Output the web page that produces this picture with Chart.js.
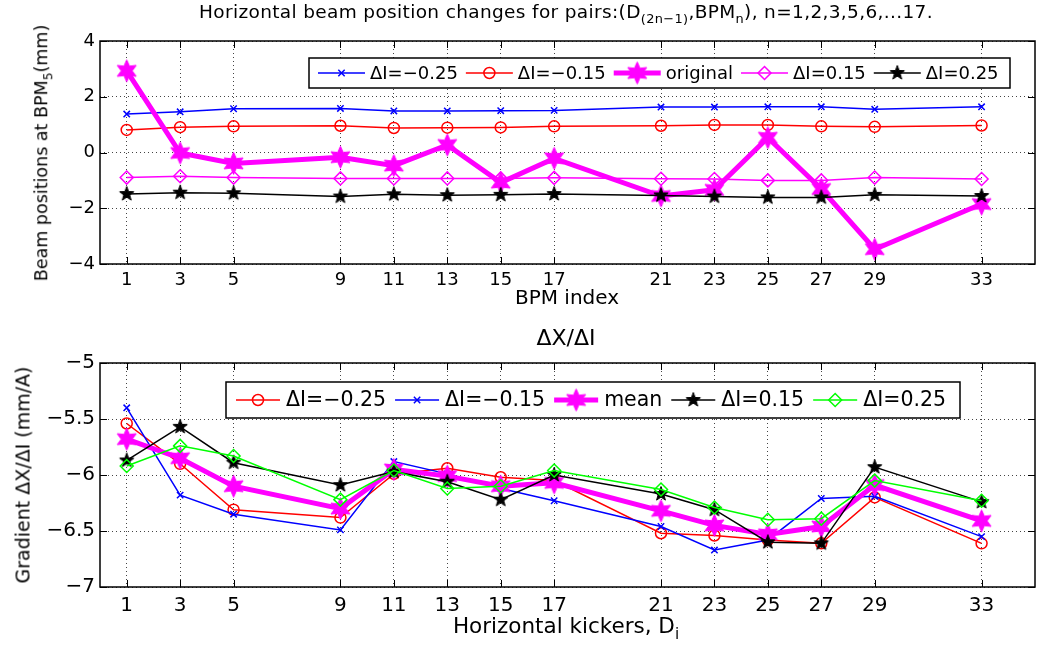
<!DOCTYPE html>
<html>
<head>
<meta charset="utf-8">
<script src="https://cdn.jsdelivr.net/npm/chart.js@4.4.0/dist/chart.umd.min.js"></script>
<style>
body { margin: 0; background: #fff; }
#wrap { position: relative; width: 1037px; height: 646px; overflow: hidden; font-family: 'DejaVu Sans', sans-serif; color: #000; }
canvas { position: absolute; left: 0; }
.lbl { position: absolute; white-space: nowrap; transform: translate(-50%, -50%); line-height: 1; }
.rot { transform: translate(-50%, -50%) rotate(-90deg); }
sub { font-size: 70%; vertical-align: -0.4em; line-height: 0; }
</style>
</head>
<body>
<div id="wrap">
  <canvas id="topChart" width="1037" height="300" style="top:0"></canvas>
  <canvas id="botChart" width="1037" height="336" style="top:310px"></canvas>

  <div class="lbl" style="left:566px;top:12px;font-size:18.5px;letter-spacing:0.35px">Horizontal beam position changes for pairs:(D<sub>(2n−1)</sub>,BPM<sub>n</sub>), n=1,2,3,5,6,...17.</div>
  <div class="lbl rot" style="left:42px;top:153px;font-size:17.5px">Beam positions at BPM<sub>5</sub>(mm)</div>
  <div class="lbl" style="left:567px;top:297px;font-size:20px">BPM index</div>

  <div class="lbl" style="left:566px;top:338px;font-size:22px">ΔX/ΔI</div>
  <div class="lbl rot" style="left:23px;top:475px;font-size:19px">Gradient ΔX/ΔI (mm/A)</div>
  <div class="lbl" style="left:566px;top:626px;font-size:21.5px">Horizontal kickers, D<sub>i</sub></div>
</div>

<script>
// x 位置 (BPM / kicker 编号)
const bpmIndex = [1, 3, 5, 9, 11, 13, 15, 17, 21, 23, 25, 27, 29, 33];

// 上图: BPM5 处的束流位置 (mm)
const topLabels = ['ΔI=−0.25', 'ΔI=−0.15', 'original', 'ΔI=0.15', 'ΔI=0.25'];
const posM025 = [1.38, 1.46, 1.57, 1.58, 1.49, 1.49, 1.50, 1.51, 1.63, 1.63, 1.64, 1.64, 1.55, 1.64];
const posM015 = [0.81, 0.91, 0.94, 0.96, 0.88, 0.89, 0.90, 0.94, 0.96, 0.99, 0.99, 0.94, 0.92, 0.97];
const posOrig = [2.93, -0.02, -0.39, -0.17, -0.47, 0.27, -1.08, -0.21, -1.56, -1.34, 0.53, -1.31, -3.47, -1.85];
const posP015 = [-0.90, -0.85, -0.90, -0.93, -0.93, -0.93, -0.93, -0.91, -0.94, -0.95, -1.00, -1.00, -0.90, -0.95];
const posP025 = [-1.49, -1.44, -1.46, -1.58, -1.50, -1.53, -1.52, -1.49, -1.54, -1.58, -1.61, -1.61, -1.52, -1.56];

// 下图: 梯度 ΔX/ΔI (mm/A)
const botLabels = ['ΔI=−0.25', 'ΔI=−0.15', 'mean', 'ΔI=0.15', 'ΔI=0.25'];
const gradM025 = [-5.54, -5.90, -6.31, -6.38, -5.99, -5.94, -6.02, -6.05, -6.52, -6.54, -6.58, -6.61, -6.20, -6.61];
const gradM015 = [-5.40, -6.18, -6.35, -6.49, -5.88, -5.99, -6.12, -6.23, -6.46, -6.67, -6.58, -6.21, -6.19, -6.55];
const gradMean = [-5.68, -5.85, -6.10, -6.30, -5.95, -6.01, -6.10, -6.07, -6.32, -6.45, -6.53, -6.46, -6.09, -6.41];
const gradP015 = [-5.87, -5.57, -5.89, -6.09, -5.97, -6.06, -6.22, -6.00, -6.17, -6.31, -6.60, -6.61, -5.93, -6.24];
const gradP025 = [-5.92, -5.74, -5.83, -6.22, -5.96, -6.12, -6.10, -5.96, -6.13, -6.29, -6.40, -6.39, -6.05, -6.23];

const FONT = "'DejaVu Sans', sans-serif";

// 星形标记 (pentagram / hexagram)
function starImage(n, rOut, rIn, color) {
    const s = Math.ceil(2 * rOut + 3);
    const c = document.createElement('canvas');
    c.width = c.height = s;
    const g = c.getContext('2d');
    g.beginPath();
    for (let k = 0; k < 2 * n; k++) {
        const r = k % 2 ? rIn : rOut;
        const a = -Math.PI / 2 + k * Math.PI / n;
        g.lineTo(s / 2 + r * Math.cos(a), s / 2 + r * Math.sin(a));
    }
    g.closePath();
    g.fillStyle = color;
    g.fill();
    g.strokeStyle = color;
    g.lineWidth = 1;
    g.stroke();
    return c;
}

const pentaBlack = starImage(5, 7.5, 3.1, '#000');
const hexaMagenta = starImage(6, 11, 5.5, '#ff00ff');

function toPoints(arr) {
    return bpmIndex.map((x, i) => ({ x, y: arr[i] }));
}

function series(label, arr, color, style, radius, width) {
    return {
        label,
        data: toPoints(arr),
        borderColor: color,
        backgroundColor: color,
        borderWidth: width || 1.5,
        pointStyle: style,
        pointRadius: radius,
        pointBorderColor: color,
        pointBackgroundColor: 'rgba(0,0,0,0)',
        pointBorderWidth: 1.5,
        tension: 0
    };
}

function minusFmt(v) {
    return (v < 0 ? '−' : '') + Math.abs(v);
}

function drawMarker(g, ds, x, y) {
    const st = ds.pointStyle, r = ds.pointRadius;
    g.save();
    g.strokeStyle = ds.pointBorderColor;
    g.lineWidth = ds.pointBorderWidth;
    g.setLineDash([]);
    if (st instanceof HTMLCanvasElement) {
        g.drawImage(st, x - st.width / 2, y - st.height / 2);
    } else if (st === 'crossRot') {
        const o = r * Math.SQRT1_2;
        g.beginPath();
        g.moveTo(x - o, y - o); g.lineTo(x + o, y + o);
        g.moveTo(x + o, y - o); g.lineTo(x - o, y + o);
        g.stroke();
    } else if (st === 'circle') {
        g.beginPath();
        g.arc(x, y, r, 0, 2 * Math.PI);
        g.stroke();
    } else if (st === 'rectRot') {
        g.beginPath();
        g.moveTo(x - r, y); g.lineTo(x, y - r); g.lineTo(x + r, y); g.lineTo(x, y + r);
        g.closePath();
        g.stroke();
    }
    g.restore();
}

// MATLAB 风格: 外框 + 内向刻度 + 框内图例
const matlabPlugin = {
    id: 'matlab',
    afterDraw(chart, args, opts) {
        const g = chart.ctx;
        const a = chart.chartArea;
        g.save();
        g.strokeStyle = '#000';
        g.lineWidth = 1.5;
        g.setLineDash([]);
        g.strokeRect(a.left, a.top, a.right - a.left, a.bottom - a.top);

        const tl = 7;
        g.lineWidth = 1;
        g.beginPath();
        chart.scales.x.ticks.forEach(t => {
            const px = Math.round(chart.scales.x.getPixelForValue(t.value)) + 0.5;
            g.moveTo(px, a.bottom); g.lineTo(px, a.bottom - tl);
            g.moveTo(px, a.top); g.lineTo(px, a.top + tl);
        });
        chart.scales.y.ticks.forEach(t => {
            const py = Math.round(chart.scales.y.getPixelForValue(t.value)) + 0.5;
            g.moveTo(a.left, py); g.lineTo(a.left + tl, py);
            g.moveTo(a.right, py); g.lineTo(a.right - tl, py);
        });
        g.stroke();

        // 图例
        const L = opts.box;
        g.fillStyle = '#fff';
        g.fillRect(L.left, L.top, L.width, L.height);
        g.lineWidth = 1.5;
        g.strokeRect(L.left, L.top, L.width, L.height);
        g.font = opts.fontSize + 'px ' + FONT;
        g.textBaseline = 'middle';
        g.textAlign = 'left';
        const cy = L.top + L.height / 2;
        let x = L.left + opts.padLeft;
        chart.data.datasets.forEach(ds => {
            g.strokeStyle = ds.borderColor;
            g.lineWidth = ds.borderWidth;
            g.beginPath();
            g.moveTo(x, cy); g.lineTo(x + opts.sample, cy);
            g.stroke();
            drawMarker(g, ds, x + opts.sample / 2, cy);
            g.fillStyle = '#000';
            const tx = x + opts.sample + opts.gapText;
            g.fillText(ds.label, tx, cy + 1);
            x = tx + g.measureText(ds.label).width + opts.gapItem;
        });
        g.restore();
    }
};

function makeChart(id, datasets, cfg) {
    datasets.forEach((ds, i) => { ds.order = datasets.length - i; });
    return new Chart(document.getElementById(id), {
        type: 'line',
        data: { datasets },
        options: {
            responsive: false,
            animation: false,
            devicePixelRatio: 1,
            layout: {
                autoPadding: false,
                padding: { top: cfg.top, right: 2, left: 0, bottom: 0 }
            },
            plugins: {
                legend: { display: false },
                tooltip: { enabled: false },
                matlab: cfg.legend
            },
            scales: {
                x: {
                    type: 'linear',
                    min: 0,
                    max: 35,
                    afterBuildTicks: s => { s.ticks = bpmIndex.map(v => ({ value: v })); },
                    afterFit: s => {
                        s.height = cfg.xh;
                        s.paddingLeft = 0;
                        s.paddingRight = 0;
                    },
                    grid: { color: '#444', lineWidth: 1, drawTicks: false },
                    border: { display: false, dash: [1, 3] },
                    ticks: {
                        color: '#000',
                        font: { family: FONT, size: cfg.tickSize },
                        padding: cfg.xpad,
                        maxRotation: 0,
                        autoSkip: false
                    }
                },
                y: {
                    min: cfg.ymin,
                    max: cfg.ymax,
                    afterFit: s => { s.width = 100; },
                    grid: { color: '#444', lineWidth: 1, drawTicks: false },
                    border: { display: false, dash: [1, 3] },
                    ticks: {
                        stepSize: cfg.step,
                        color: '#000',
                        font: { family: FONT, size: cfg.tickSize },
                        padding: 5,
                        callback: minusFmt
                    }
                }
            }
        },
        plugins: [matlabPlugin]
    });
}

makeChart('topChart', [
    series(topLabels[0], posM025, '#0000ff', 'crossRot', 4.5),
    series(topLabels[1], posM015, '#ff0000', 'circle', 5.5),
    series(topLabels[2], posOrig, '#ff00ff', hexaMagenta, 10, 5),
    series(topLabels[3], posP015, '#ff00ff', 'rectRot', 6.5),
    series(topLabels[4], posP025, '#000000', pentaBlack, 7)
], {
    top: 41, xh: 36, xpad: 6, tickSize: 18, ymin: -4, ymax: 4, step: 2,
    legend: {
        box: { left: 309, top: 58, width: 701, height: 30 },
        fontSize: 18, padLeft: 9, sample: 47, gapText: 5, gapItem: 8
    }
});

// 下图画布从 y=310 开始, 图例坐标相对画布
makeChart('botChart', [
    series(botLabels[0], gradM025, '#ff0000', 'circle', 5.5),
    series(botLabels[1], gradM015, '#0000ff', 'crossRot', 4.5),
    series(botLabels[2], gradMean, '#ff00ff', hexaMagenta, 10, 5),
    series(botLabels[3], gradP015, '#000000', pentaBlack, 7),
    series(botLabels[4], gradP025, '#00ff00', 'rectRot', 6.5)
], {
    top: 53, xh: 59, xpad: 7, tickSize: 20, ymin: -7, ymax: -5, step: 0.5,
    legend: {
        box: { left: 226, top: 72, width: 734, height: 36 },
        fontSize: 20.5, padLeft: 10, sample: 44, gapText: 6, gapItem: 9
    }
});
</script>
</body>
</html>
